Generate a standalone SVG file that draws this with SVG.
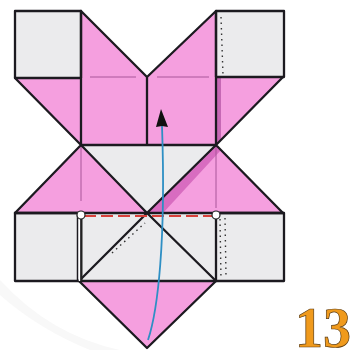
<svg xmlns="http://www.w3.org/2000/svg" width="352" height="350" viewBox="0 0 352 350">
<style>
.g{fill:#ebebed}.p{fill:#f59fdf}
.k{fill:none;stroke:#1c1a20;stroke-width:2.300;stroke-linejoin:round;stroke-linecap:round}
.t{fill:none;stroke:#a9569a;stroke-width:1}
.d{fill:none;stroke:#333;stroke-width:1.400;stroke-dasharray:1.500 4}
.c{fill:#fff;stroke:#222;stroke-width:1.200}
</style>
<rect width="352" height="350" fill="#fff"/>
<path d="M0 280Q50 335 120 350L90 350Q40 330 0 295Z" fill="#f8f8f8"/>
<g id="paper">
<rect class="g" x="15" y="11" width="66" height="67"/>
<rect class="g" x="216" y="11" width="68" height="66"/>
<rect class="g" x="15" y="213" width="66" height="68"/>
<rect class="g" x="216" y="213" width="68" height="68"/>
<rect class="g" x="81" y="145" width="135" height="136"/>
<path class="p" d="M81 11L147 77L216 11V145H81Z"/>
<path class="p" d="M15 78H81V145Z"/>
<path class="p" d="M216 77H283L216 145Z"/>
<path class="p" d="M81 145L15 213H147Z"/>
<path class="p" d="M216 145L147 213H283Z"/>
<path class="p" d="M79 281H216L147 348Z"/>
<path d="M216 145L147 213H163L221 150Z" fill="#d86cc0"/>
<path d="M216 77H221V140L216 145Z" fill="#c668b4"/>
</g>
<g id="connectors">
<path class="t" d="M90 77H136M157 77H209M81 146V201M216 146V208"/>
<path class="k" d="M15 11H81V78H15ZM216 11H284V77H216ZM15 213H81V281H15ZM216 213H284V281H216Z"/>
<path class="k" d="M81 11L147 77L216 11V145M81 11V145M147 77V145M81 145H216"/>
<path class="k" d="M15 78L81 145L147 213L216 281L147 348L79 281L147 213L216 145L283 213M283 77L216 145M81 145L15 213"/>
<path class="k" d="M15 213H283M79 281H216"/>
<path d="M77.500 215V281" fill="none" stroke="#1c1a20" stroke-width="1.500"/>
<path d="M79.500 215V281" fill="none" stroke="#fff" stroke-width="1.500"/>
<path d="M81.500 215V281" fill="none" stroke="#222" stroke-width="1.800"/>
<path d="M221 17L223 75M220 219L221 279M225 218L226 276M112 253L145 223" class="d"/>
<path d="M84 216H212" fill="none" stroke="#d8403a" stroke-width="2" stroke-dasharray="12 5"/>
<path d="M148 340C158 310 166 240 162 126" fill="none" stroke="#2e8fc4" stroke-width="1.800"/>
<path d="M161 109L156 127L162 126L168 127Z" fill="#111"/>
</g>
<g id="points">
<circle class="c" cx="81" cy="215" r="4"/>
<circle class="c" cx="216" cy="215" r="4"/>
</g>
<text id="step" x="295" y="347" font-family="Liberation Serif, serif" font-size="58" font-weight="bold" fill="#f09a1c" stroke="#5a3a10" stroke-width="0.700" textLength="56" lengthAdjust="spacingAndGlyphs">13</text>
</svg>
